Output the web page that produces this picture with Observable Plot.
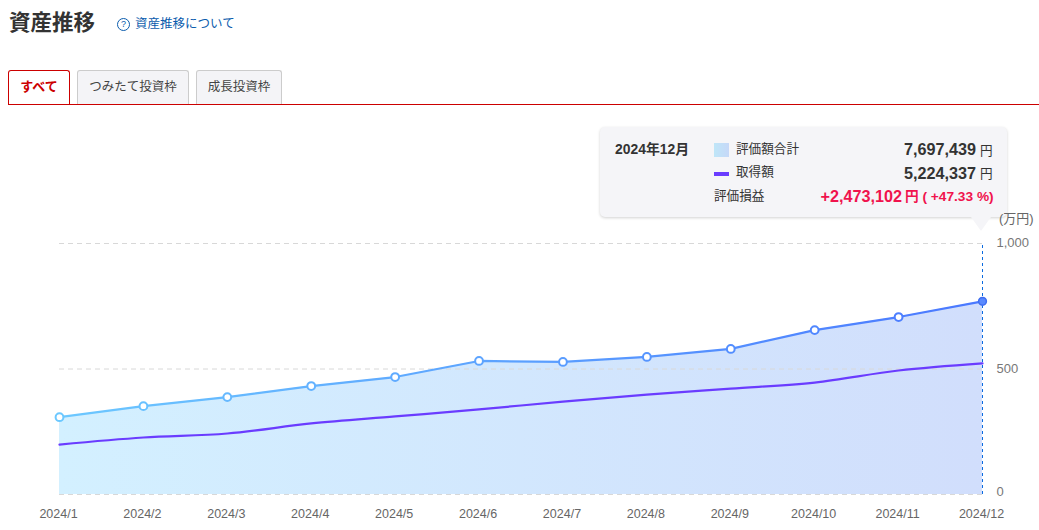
<!DOCTYPE html>
<html lang="ja"><head><meta charset="utf-8">
<script src="https://cdn.jsdelivr.net/npm/d3@7"></script>
<script src="https://cdn.jsdelivr.net/npm/@observablehq/plot@0.6"></script>
<style>
html,body{margin:0;padding:0;background:#fff;}
body{width:1039px;height:530px;position:relative;overflow:hidden;font-family:"Liberation Sans","Noto Sans CJK JP",sans-serif;color:#333;}
.abs{position:absolute;white-space:nowrap;}
h1{margin:0;font-size:21.5px;line-height:24px;font-weight:700;left:9px;top:11px;color:#333;}
.help{left:135px;top:16px;font-size:12.5px;line-height:16px;color:#0b5cad;}
.qm{left:117px;top:18px;width:11px;height:11px;border:1px solid #0b5cad;border-radius:50%;font-size:9px;line-height:11px;text-align:center;color:#0b5cad;}
.tab{top:70px;height:33px;line-height:32px;box-sizing:content-box;text-align:center;font-size:12.5px;background:#f4f4f7;border:1px solid #ccc;border-bottom:none;border-radius:3px 3px 0 0;color:#444;}
.tab.on{background:#fff;border-color:#c00;color:#c00;font-weight:700;font-size:13px;}
.tabline{left:8px;top:104px;width:1031px;height:1px;background:#c00;}
svg{position:absolute;left:0;top:200px;}
.tip{left:600px;top:127px;width:407px;height:90px;background:#f5f5f8;border-radius:5px;box-shadow:0 1px 3px rgba(0,0,0,.18);}
.arrow{left:971px;top:217px;width:0;height:0;border-left:10px solid transparent;border-right:10px solid transparent;border-top:14px solid #f5f5f8;}
.t{font-size:12.6px;line-height:16px;color:#333;}
.b{font-size:16.2px;line-height:20px;font-weight:700;color:#333;}
.r{color:#f0134d;}
.unit{font-size:13px;color:#666;left:999px;top:212px;line-height:14px;}
</style></head><body>
<h1 class="abs">資産推移</h1>
<div class="abs qm">?</div><div class="abs help">資産推移について</div>
<div class="abs tab on" style="left:8px;width:60px;">すべて</div>
<div class="abs tab" style="left:77px;width:110px;">つみたて投資枠</div>
<div class="abs tab" style="left:196px;width:84px;">成長投資枠</div>
<div class="abs tabline"></div>
<div class="abs tip"></div><div class="abs arrow"></div>
<div class="abs t" style="left:615px;top:141px;font-weight:700;font-size:13.9px;">2024年12月</div>
<div class="abs" style="left:714px;top:143px;width:15px;height:14px;background:linear-gradient(90deg,#bfe6f8,#c6d8f8);"></div>
<div class="abs t" style="left:736px;top:141px;">評価額合計</div>
<div class="abs b" style="right:63px;top:139px;">7,697,439</div><div class="abs t" style="left:980px;top:143px;">円</div>
<div class="abs" style="left:714px;top:172px;width:15px;height:4px;background:#6a3cff;"></div>
<div class="abs t" style="left:736px;top:164px;">取得額</div>
<div class="abs b" style="right:63px;top:163px;">5,224,337</div><div class="abs t" style="left:980px;top:166px;">円</div>
<div class="abs t" style="left:714px;top:188px;">評価損益</div>
<div class="abs b r" style="right:137px;top:186px;">+2,473,102</div>
<div class="abs t r" style="left:905px;top:189px;font-weight:700;font-size:13.7px;">円 ( +47.33 %)</div>
<div class="abs unit">(万円)</div>
<div id="chart"></div>
<script>
const months=["2024/1","2024/2","2024/3","2024/4","2024/5","2024/6","2024/7","2024/8","2024/9","2024/10","2024/11","2024/12"];
const valuation=[308,352,388,432,468,532,528,548,580,655,707,769.7];
const cost=[199,227,243,283,311,339,370,398,422,446,494,522.4];
const gridValues=[0,500,1000];
const rows=months.map((m,i)=>({m,i,v:valuation[i],c:cost[i]}));
const last=months[months.length-1];
const lineColor=d3.interpolateRgb("#6cc8ff","#4a78ff");
const defs=()=>{
  const s=d3.create("svg:defs");
  const mk=(id,a,b)=>{const g=s.append("linearGradient").attr("id",id).attr("gradientUnits","userSpaceOnUse").attr("x1",59).attr("x2",982).attr("y1",0).attr("y2",0);
    g.append("stop").attr("offset",0).attr("stop-color",a);g.append("stop").attr("offset",1).attr("stop-color",b);};
  mk("fillG","#d3f0ff","#d1defc");mk("strokeG","#6cc8ff","#4a78ff");
  return s.node();
};
const chart=Plot.plot({
  width:1039,height:330,marginLeft:59,marginRight:57,marginTop:43,marginBottom:36,
  style:{fontFamily:"'Liberation Sans','Noto Sans CJK JP',sans-serif",fontSize:"12.5px",background:"transparent",overflow:"visible"},
  x:{type:"point",domain:months,padding:0,round:false,label:null},
  y:{domain:[0,1000],label:null},
  marks:[
    defs,
    Plot.areaY(rows,{x:"m",y:"v",fill:"url(#fillG)",curve:"linear"}),
    Plot.ruleY(gridValues,{stroke:"#d8d8d8",strokeDasharray:"5,4",strokeWidth:1}),
    Plot.line(rows,{x:"m",y:"c",stroke:"#6a3cff",strokeWidth:2.2,curve:"monotone-x"}),
    Plot.line(rows,{x:"m",y:"v",stroke:"url(#strokeG)",strokeWidth:2.2,curve:"linear"}),
    Plot.ruleX([last],{y1:0,y2:1000,stroke:"#0b6be0",strokeWidth:1,strokeDasharray:"3,3"}),
    Plot.dot(rows.slice(0,-1),{x:"m",y:"v",r:3.9,fill:"#fff",stroke:d=>lineColor(d.i/11),strokeWidth:2}),
    Plot.dot(rows.slice(-1),{x:"m",y:"v",r:3.9,fill:"#5a8aff",stroke:"#3f6df0",strokeWidth:1.5}),
    Plot.axisX({anchor:"bottom",tickSize:0,tickPadding:15,fill:"#666",label:null,fontSize:12.5,dx:-1}),
    Plot.axisY({anchor:"right",ticks:[500,1000],tickSize:0,tickPadding:14,textAnchor:"start",fill:"#777",label:null,tickFormat:d3.format(","),fontSize:13,dy:-0.5}),
    Plot.axisY({anchor:"right",ticks:[0],tickSize:0,tickPadding:14,textAnchor:"start",fill:"#777",label:null,fontSize:13,dy:-3})
  ]
});
document.getElementById("chart").appendChild(chart);
</script>
</body></html>
